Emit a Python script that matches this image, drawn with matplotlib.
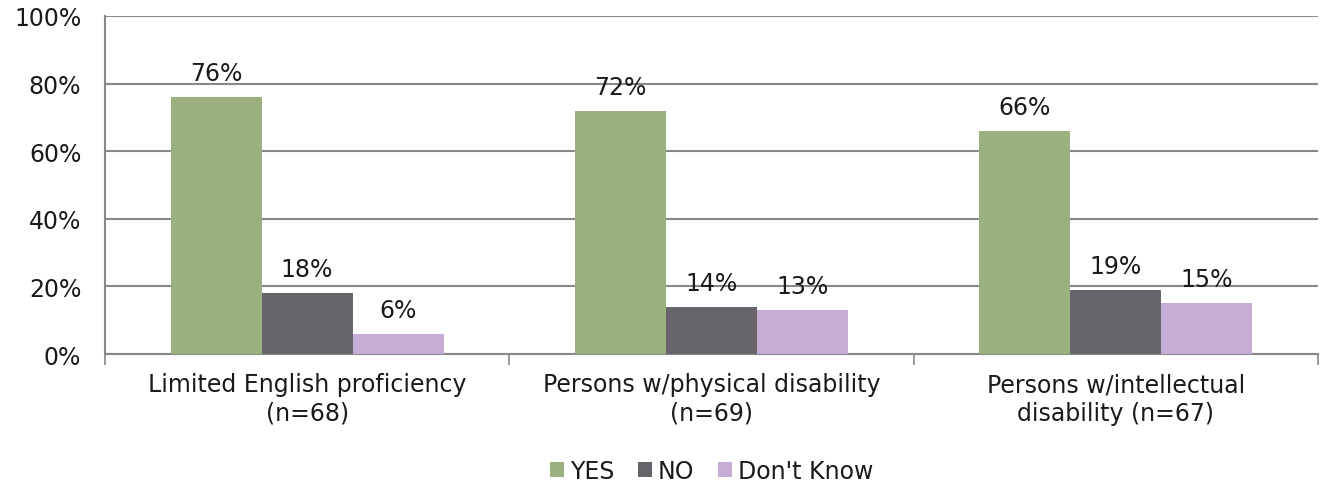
import numpy as np
import matplotlib
matplotlib.use("Agg")
import matplotlib.pyplot as plt

# Data
categories = ["Limited English proficiency\n(n=68)",
              "Persons w/physical disability\n(n=69)",
              "Persons w/intellectual\ndisability (n=67)"]
series_names = ["YES", "NO", "Don't Know"]
yes_vals = [76, 72, 66]
no_vals = [18, 14, 19]
dk_vals = [6, 13, 15]
colors = ["#9BB07F", "#67646B", "#C6ADD6"]

plt.rcParams["font.family"] = ["DejaVu Sans"]
FS = 17
TXT = "#1a1a1a"

fig = plt.figure(figsize=(13.2, 4.85), dpi=100)
ax = fig.add_axes([0.0795, 0.268, 0.919, 0.697])

x = np.arange(len(categories))
w = 0.225
for i, (vals, name, c) in enumerate(zip([yes_vals, no_vals, dk_vals], series_names, colors)):
    pos = x + (i - 1) * w
    ax.bar(pos, vals, width=w, color=c, label=name, zorder=3)
    for p, v in zip(pos, vals):
        ax.text(p, v + 3.5, f"{v}%", ha="center", va="bottom", fontsize=FS, color=TXT)

ax.set_xlim(-0.5, 2.5)
ax.set_ylim(0, 100)
ax.set_yticks(range(0, 101, 20))
ax.set_yticklabels([f"{t}%" for t in range(0, 101, 20)], fontsize=FS, color=TXT)
ax.yaxis.grid(True, color="#888888", linewidth=1.5, zorder=0)
ax.tick_params(axis="y", length=0, pad=17)

ax.set_xticks(x)
ax.set_xticklabels(categories, fontsize=FS, color=TXT, linespacing=1.25)
ax.tick_params(axis="x", length=0, pad=13)
ax.set_xticks([-0.5, 0.5, 1.5, 2.5], minor=True)
ax.tick_params(axis="x", which="minor", length=8, color="#888888", width=1.2)

for s in ["top", "right"]:
    ax.spines[s].set_visible(False)
ax.spines["left"].set_color("#888888")
ax.spines["left"].set_linewidth(1.5)
ax.spines["bottom"].set_color("#888888")
ax.spines["bottom"].set_linewidth(1.5)

ax.legend(loc="center", bbox_to_anchor=(0.5, -0.345), ncol=3, frameon=False,
          fontsize=FS, handlelength=0.6, handleheight=0.6, handletextpad=0.25,
          columnspacing=1.0, labelcolor=TXT)

plt.savefig("out.png", dpi=100)
plt.close()
